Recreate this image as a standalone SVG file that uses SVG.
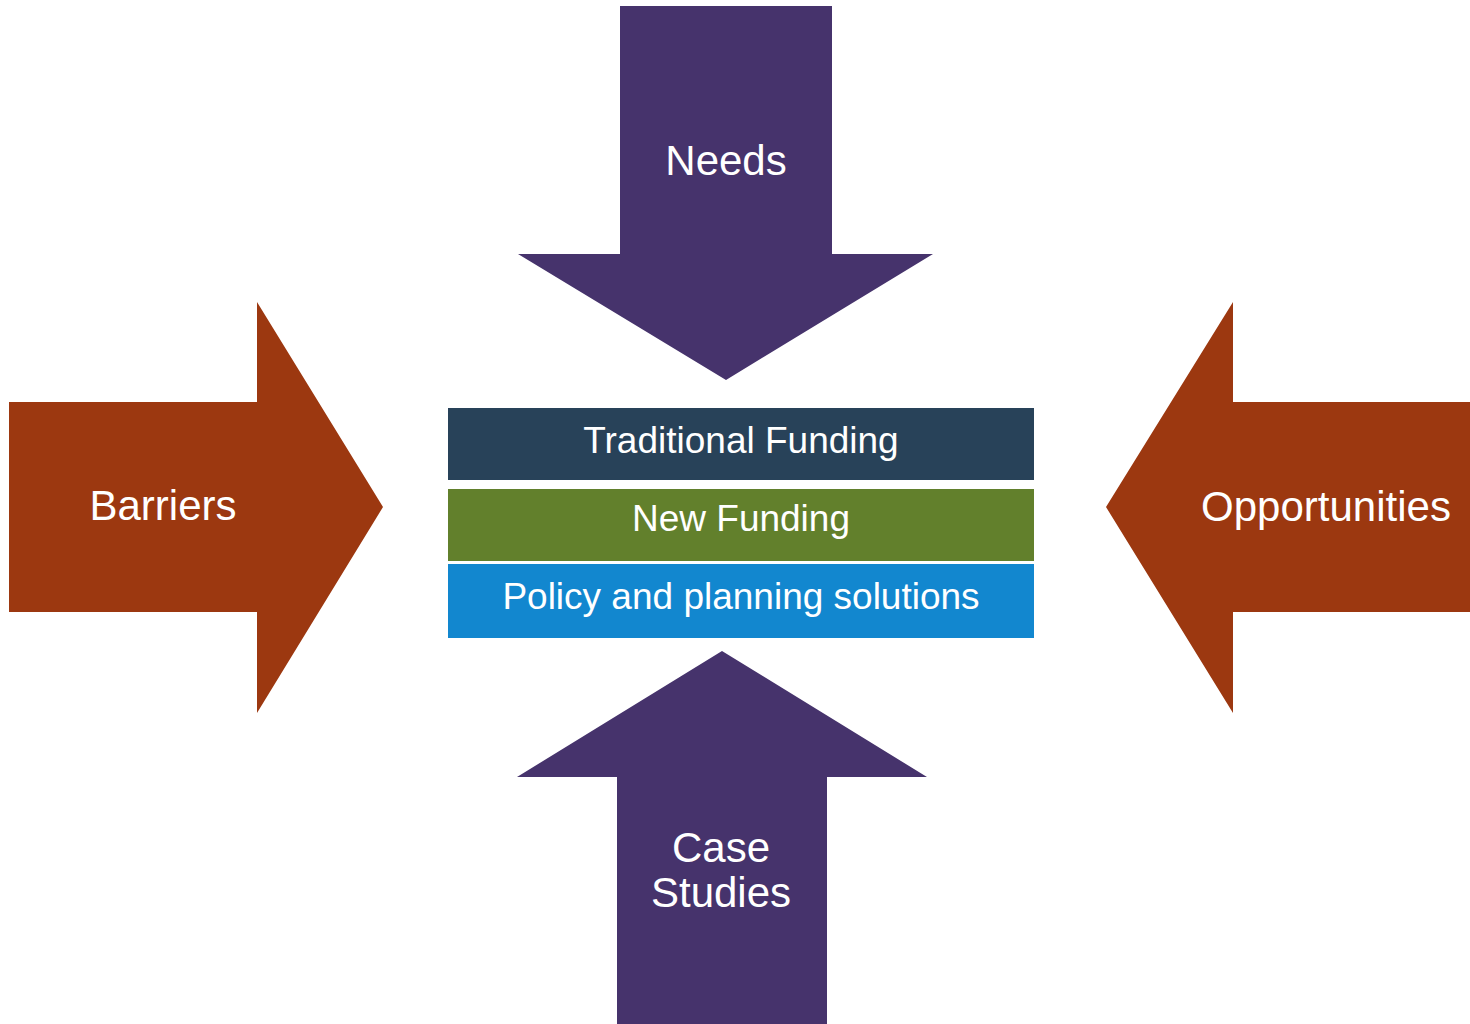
<svg xmlns="http://www.w3.org/2000/svg" width="1470" height="1024" viewBox="0 0 1470 1024">
<style>
.purple{fill:#46336C}
.rust{fill:#9C3810}
.lbl{font-family:"Liberation Sans",Arial,sans-serif;fill:#ffffff;text-anchor:middle}
.big{font-size:42px}
.mid{font-size:37px}
</style>
<rect width="1470" height="1024" fill="#ffffff"/>
<g id="needs">
<polygon class="purple" points="620,6 832,6 832,254 933,254 726,380 518,254 620,254"/>
<text class="lbl big" x="726" y="175">Needs</text>
</g>
<g id="barriers">
<polygon class="rust" points="9,402 257,402 257,302 383,507 257,713 257,612 9,612"/>
<text class="lbl big" x="163" y="520">Barriers</text>
</g>
<g id="opportunities">
<polygon class="rust" points="1470,402 1233,402 1233,302 1106,507 1233,713 1233,612 1470,612"/>
<text class="lbl big" x="1326" y="521">Opportunities</text>
</g>
<g id="case-studies">
<polygon class="purple" points="617,1024 827,1024 827,777 927,777 722,651 517,777 617,777"/>
<text class="lbl big" x="721" y="862">Case</text>
<text class="lbl big" x="721" y="907">Studies</text>
</g>
<g id="traditional-funding">
<rect x="448" y="408" width="586" height="72" fill="#284259"/>
<text class="lbl mid" x="741" y="453">Traditional Funding</text>
</g>
<g id="new-funding">
<rect x="448" y="489" width="586" height="72" fill="#62802C"/>
<text class="lbl mid" x="741" y="531">New Funding</text>
</g>
<g id="policy">
<rect x="448" y="564" width="586" height="74" fill="#1287CF"/>
<text class="lbl mid" x="741" y="609">Policy and planning solutions</text>
</g>
<g id="connectors"></g>
</svg>
